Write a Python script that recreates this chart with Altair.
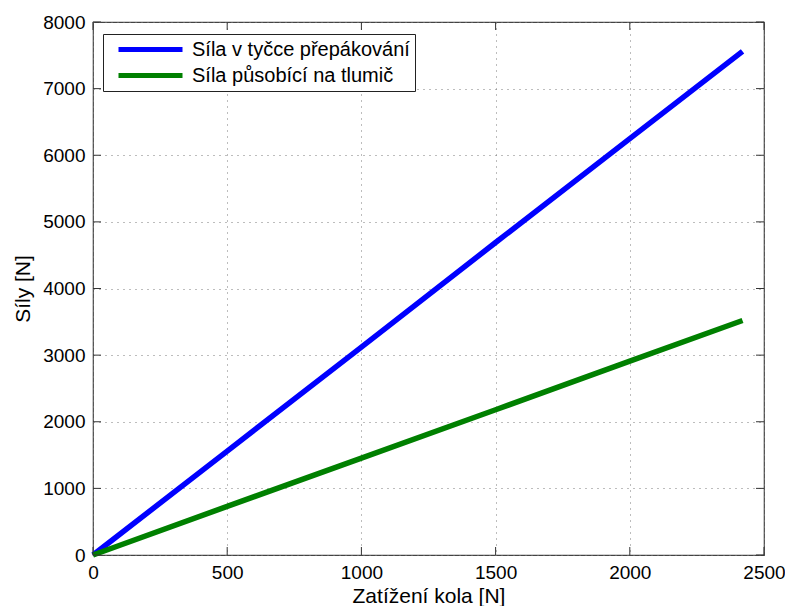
import altair as alt
import pandas as pd

# Data
zatizeni = [0, 500, 1000, 1500, 2000, 2420]
sila_tyc = [0, 1560, 3120, 4690, 6250, 7560]
sila_tlumic = [0, 730, 1455, 2180, 2910, 3520]
series_names = ["Síla v tyčce přepákování", "Síla působící na tlumič"]
series_colors = ["#0000ff", "#008000"]
x_ticks = [0, 500, 1000, 1500, 2000, 2500]
y_ticks = [0, 1000, 2000, 3000, 4000, 5000, 6000, 7000, 8000]

W, H = 671, 533
TL = 8
FONT = "Liberation Sans"

rows = []
for xv, a, b in zip(zatizeni, sila_tyc, sila_tlumic):
    rows.append({"x": xv, "y": a, "s": series_names[0]})
    rows.append({"x": xv, "y": b, "s": series_names[1]})
df = pd.DataFrame(rows)

xscale = alt.Scale(domain=[0, 2500], nice=False, zero=False)
yscale = alt.Scale(domain=[0, 8000], nice=False, zero=False)

grid_axis_common = dict(
    grid=True, gridColor="#7a7a7a", gridDash=[1, 5], gridWidth=1,
    domain=False, ticks=False, labelFont=FONT, labelFontSize=19,
    labelColor="#000", titleFont=FONT, titleFontSize=21,
    titleFontWeight="normal", titleColor="#000", format="d",
    labelFlush=False, labelOverlap=False,
)

lines = alt.Chart(df).mark_line(strokeWidth=5.5, strokeCap="butt").encode(
    x=alt.X("x:Q", scale=xscale,
            axis=alt.Axis(values=x_ticks, title="Zatížení kola [N]",
                          labelPadding=8, titlePadding=3, **grid_axis_common)),
    y=alt.Y("y:Q", scale=yscale,
            axis=alt.Axis(values=y_ticks, title="Síly [N]",
                          labelPadding=8, titlePadding=9, **grid_axis_common)),
    color=alt.Color("s:N", scale=alt.Scale(domain=series_names, range=series_colors),
                    legend=alt.Legend(
                        title=None, orient="none", legendX=10, legendY=12,
                        symbolType="M-1,0L7,0", symbolStrokeWidth=5, symbolSize=256,
                        labelFont=FONT, labelFontSize=20, labelColor="#000",
                        labelLimit=400,
                        strokeColor="#222", fillColor="#fff", padding=5,
                        rowPadding=5, labelOffset=55, symbolOffset=8,
                    )),
)

xt = pd.DataFrame({"v": x_ticks})
yt = pd.DataFrame({"v": y_ticks})
tick_style = dict(color="#333", strokeWidth=1)

xb = alt.Chart(xt).mark_rule(**tick_style).encode(
    x=alt.X("v:Q", scale=xscale), y=alt.value(H), y2=alt.value(H - TL))
xtop = alt.Chart(xt).mark_rule(**tick_style).encode(
    x=alt.X("v:Q", scale=xscale), y=alt.value(0), y2=alt.value(TL))
yl = alt.Chart(yt).mark_rule(**tick_style).encode(
    y=alt.Y("v:Q", scale=yscale), x=alt.value(0), x2=alt.value(TL))
yr = alt.Chart(yt).mark_rule(**tick_style).encode(
    y=alt.Y("v:Q", scale=yscale), x=alt.value(W), x2=alt.value(W - TL))

chart = alt.layer(lines, xb, xtop, yl, yr).properties(
    width=W, height=H,
    autosize=alt.AutoSizeParams(type="none"),
    padding={"left": 85, "top": 14, "right": 21, "bottom": 51},
    background="#ffffff",
).configure_view(stroke="#444", strokeWidth=1.2)

chart.save("out.html", embed_options={"renderer": "svg", "actions": False})
